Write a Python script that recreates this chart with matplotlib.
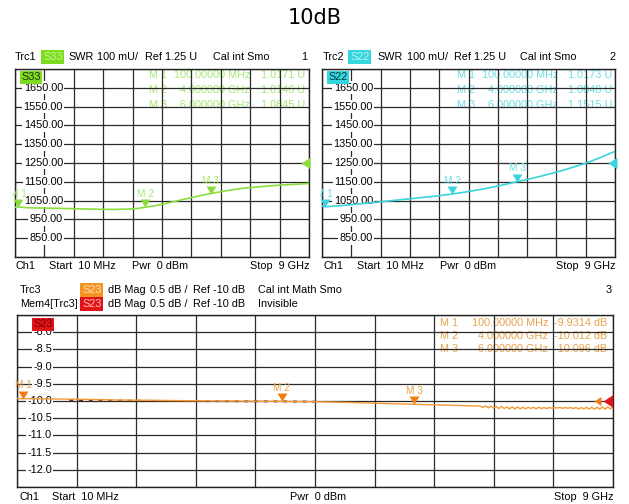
import numpy as np
import matplotlib.pyplot as plt
from matplotlib.transforms import Bbox, TransformedBbox, blended_transform_factory

W, H = 629, 504
FONT = 'Liberation Sans'
plt.rcParams['font.family'] = FONT

# traces, frequency in GHz
f_s33 = [0.01, 0.1, 0.3, 0.6, 1.0, 1.5, 2.0, 2.5, 3.0, 3.5, 3.8, 4.0, 4.3, 4.6,
         5.0, 5.3, 5.6, 6.0, 6.3, 6.6, 7.0, 7.5, 8.0, 8.5, 9.0]
s33 = [1014, 1017, 1013, 1011, 1010, 1008, 1006, 1004, 1003, 1005, 1009, 1015, 1023, 1034,
       1050, 1062, 1074, 1088, 1097, 1106, 1116, 1124, 1131, 1136, 1141]

f_s22 = [0.01, 0.1, 0.5, 1.0, 1.5, 2.0, 2.5, 3.0, 3.5, 4.0, 4.5, 5.0, 5.5, 6.0,
         6.5, 7.0, 7.5, 8.0, 8.5, 9.0]
s22 = [1022, 1017, 1022, 1030, 1038, 1047, 1056, 1065, 1074, 1085, 1098, 1113, 1131, 1151,
       1170, 1192, 1216, 1243, 1275, 1312]

f_s23 = [0.01, 0.1, 0.5, 1.0, 1.5, 2.0, 2.5, 3.0, 3.5, 4.0, 4.5, 5.0, 5.5, 6.0, 6.5,
         7.00, 7.04, 7.08, 7.12, 7.16, 7.20, 7.24, 7.28, 7.32, 7.36, 7.40, 7.44, 7.48,
         7.52, 7.56, 7.60, 7.64, 7.68, 7.72, 7.76, 7.80, 7.84, 7.88, 7.92, 7.96, 8.00,
         8.04, 8.08, 8.12, 8.16, 8.20, 8.24, 8.28, 8.32, 8.36, 8.40, 8.44, 8.48, 8.52,
         8.56, 8.60, 8.64, 8.68, 8.72, 8.76, 8.80, 8.84, 8.88, 8.92, 8.96, 9.00]
s23 = [-9.93, -9.931, -9.94, -9.95, -9.97, -9.98, -9.99, -10.0, -10.005, -10.012, -10.02,
       -10.04, -10.07, -10.096, -10.12,
       -10.15, -10.19, -10.14, -10.20, -10.15, -10.21, -10.16, -10.22, -10.16, -10.22,
       -10.17, -10.23, -10.17, -10.23, -10.17, -10.23, -10.18, -10.23, -10.18, -10.22,
       -10.18, -10.23, -10.18, -10.22, -10.19, -10.22, -10.19, -10.21, -10.20, -10.20,
       -10.19, -10.21, -10.19, -10.21, -10.19, -10.22, -10.19, -10.23, -10.19, -10.23,
       -10.18, -10.24, -10.18, -10.24, -10.18, -10.24, -10.17, -10.24, -10.17, -10.23,
       -10.16]

f_mem = [0.8, 1.2, 1.6, 2.0, 2.5, 3.0, 3.5, 4.0, 4.5]
mem = [-9.975, -9.985, -9.99, -9.995, -10.0, -10.005, -10.01, -10.012, -10.02]

marker_f = [0.1, 4.0, 6.0]
marker_f_txt = ['100.00000 MHz', '4.000000 GHz', '6.000000 GHz']
m_s33 = [1017.1, 1014.6, 1084.5]
m_s22 = [1017.3, 1084.8, 1151.5]
m_s23 = [-9.9314, -10.012, -10.096]

swr_ticks = [1650, 1550, 1450, 1350, 1250, 1150, 1050, 950, 850]
db_ticks = [-8.0, -8.5, -9.0, -9.5, -10.0, -10.5, -11.0, -11.5, -12.0]

GREEN, GREEN_T = '#8ade3c', '#a6e874'
CYAN, CYAN_T = '#3ad4dc', '#6adfe5'
ORANGE, ORANGE_T = '#f39a36', '#e8a24a'
MARK_OR = '#f07e10'
RED = '#e01418'

TRI_DOWN = [(-0.62, 1), (0.62, 1), (0, 0)]
TRI_LEFT = [(0, 0), (1, 0.65), (1, -0.65)]

fig = plt.figure(figsize=(W / 100, H / 100), dpi=100)


def ftext(x, y, s, ha='left', color='black', size=7.8, **kw):
    return fig.text(x / W, 1 - y / H, s, ha=ha, va='center', fontsize=size,
                    color=color, **kw)


def panel(x0, y0, x1, y1, ylim):
    ax = fig.add_axes([x0 / W, 1 - y1 / H, (x1 - x0) / W, (y1 - y0) / H])
    ax.set_xlim(0.01, 9)
    ax.set_ylim(*ylim)
    ax.set_xticks(np.linspace(0.01, 9, 11))
    ax.set_yticks(np.linspace(ylim[0], ylim[1], 11))
    ax.tick_params(length=0, labelleft=False, labelbottom=False)
    ax.grid(True, color='#2a2a2a', lw=0.9)
    ax.set_axisbelow(True)
    for s in ax.spines.values():
        s.set_color('#222222')
        s.set_linewidth(1.0)
    return ax


def markers(ax, vals, color, tcolor, clip_x):
    ax.plot(marker_f, vals, linestyle='none', marker=TRI_DOWN, ms=11.5, color=color,
            mec='none', clip_on=False, zorder=4)
    for i, (f, v) in enumerate(zip(marker_f, vals)):
        t = ax.annotate(f'M {i + 1}', (f, v), xytext=(0, 9.5), textcoords='offset points',
                        ha='center', va='center', fontsize=7.2, color=tcolor,
                        annotation_clip=False)
        t.set_clip_on(True)
        t.set_clip_box(TransformedBbox(Bbox.from_extents(clip_x / W, 0, 1, 1),
                                       fig.transFigure))


def ylabels(ax, ticks, xfrac, fmt):
    tr = blended_transform_factory(ax.transAxes, ax.transData)
    for v in ticks:
        ax.text(xfrac, v, fmt.format(v), transform=tr, ha='right', va='center',
                fontsize=7.8, bbox=dict(fc='white', ec='none', pad=1.0), zorder=1)
    return tr


def table(ax, vals, xm, xf, xv, ys, c, fmt, div):
    # drawn under the grid, as on the analyzer screen
    for i, (v, y) in enumerate(zip(vals, ys)):
        for x, s, ha in [(xm, f'M {i + 1}', 'left'), (xf, marker_f_txt[i], 'right'),
                         (xv, fmt.format(v / div), 'right')]:
            ax.text(x / W, 1 - y / H, s, transform=fig.transFigure, ha=ha, va='center',
                    fontsize=7.8, color=c, zorder=0.4)


# title
fig.text(0.5, 1 - 18 / H, '10dB', ha='center', va='center', fontsize=15,
         family='DejaVu Sans')

# ---- top left: S33 SWR
ax1 = panel(15, 69, 309, 257, (750, 1750))
tr1 = ylabels(ax1, swr_ticks, (63 - 15) / 294, '{:.2f}')
ax1.plot(f_s33, s33, color=GREEN, lw=1.2, zorder=3)
markers(ax1, m_s33, GREEN, GREEN_T, 13)
ax1.plot([0.972], [1250], marker=TRI_LEFT, ms=13, color=GREEN, mec='none',
         transform=tr1, clip_on=False, zorder=5)
ax1.text(6 / 294, 1705, 'S33', transform=tr1, ha='left', va='center', fontsize=7.8,
         color='#1d3300', bbox=dict(fc='#7ddc1e', ec='none', pad=1.0), zorder=6)
table(ax1, m_s33, 149, 250, 305, [75, 90, 105], GREEN_T, '{:.5g} U', 1000)

# ---- top right: S22 SWR
ax2 = panel(322, 69, 615, 257, (750, 1750))
tr2 = ylabels(ax2, swr_ticks, (373 - 322) / 293, '{:.2f}')
ax2.plot(f_s22, s22, color=CYAN, lw=1.2, zorder=3)
markers(ax2, m_s22, CYAN, CYAN_T, 320)
ax2.plot([0.976], [1250], marker=TRI_LEFT, ms=13, color=CYAN, mec='none',
         transform=tr2, clip_on=False, zorder=5)
ax2.text(6 / 293, 1705, 'S22', transform=tr2, ha='left', va='center', fontsize=7.8,
         color='#003a40', bbox=dict(fc='#36d6de', ec='none', pad=1.0), zorder=6)
table(ax2, m_s22, 457, 558, 612, [75, 90, 105], CYAN_T, '{:.5g} U', 1000)

# ---- bottom: S23 dB Mag
ax3 = panel(17, 315, 613, 487, (-12.5, -7.5))
tr3 = ylabels(ax3, db_ticks, (52 - 17) / 596, '{:.1f}')
ax3.plot(f_mem, mem, color='#6a2a10', lw=1.4, dashes=(2, 3), zorder=2.8)
ax3.plot(f_s23, s23, color=ORANGE, lw=1.0, zorder=3)
markers(ax3, m_s23, MARK_OR, ORANGE_T, 12)
ax3.plot([0.968], [-10.0], marker=TRI_LEFT, ms=10, color=MARK_OR, mec='none',
         transform=tr3, clip_on=False, zorder=5)
ax3.plot([0.983], [-10.0], marker=TRI_LEFT, ms=14, color=RED, mec='none',
         transform=tr3, clip_on=False, zorder=6)
ax3.text(16 / 596, -7.77, 'S23', transform=tr3, ha='left', va='center', fontsize=7.8,
         color='#7a0000', bbox=dict(fc=RED, ec='none', pad=1.0), zorder=6)
table(ax3, m_s23, 440, 548, 607, [323, 336, 349], ORANGE_T, '{:.5g} dB', 1)

# ---- headers
ftext(15, 57, 'Trc1')
ftext(43, 57, 'S33', color='#c6f39c', bbox=dict(fc='#7ddc1e', ec='none', pad=1.2))
ftext(68, 57, 'SWR')
ftext(97, 57, '100 mU/')
ftext(145, 57, 'Ref 1.25 U')
ftext(213, 57, 'Cal int Smo')
ftext(307, 57, '1', ha='right')

ftext(323, 57, 'Trc2')
ftext(350, 57, 'S22', color='#b8f3f6', bbox=dict(fc='#36d6de', ec='none', pad=1.2))
ftext(377, 57, 'SWR')
ftext(407, 57, '100 mU/')
ftext(454, 57, 'Ref 1.25 U')
ftext(520, 57, 'Cal int Smo')
ftext(615, 57, '2', ha='right')

ftext(20, 290, 'Trc3')
ftext(82, 290, 'S23', color='#fde0b8', bbox=dict(fc='#f39424', ec='none', pad=1.2))
ftext(108, 290, 'dB Mag')
ftext(150, 290, '0.5 dB /')
ftext(193, 290, 'Ref -10 dB')
ftext(258, 290, 'Cal int Math Smo')
ftext(612, 290, '3', ha='right')

ftext(20, 304, 'Mem4[Trc3]')
ftext(82, 304, 'S23', color='#ffb8b8', bbox=dict(fc=RED, ec='none', pad=1.2))
ftext(108, 304, 'dB Mag')
ftext(150, 304, '0.5 dB /')
ftext(193, 304, 'Ref -10 dB')
ftext(258, 304, 'Invisible')

# ---- footers
for x0, x1, y in [(15, 309, 266), (323, 616, 266)]:
    ftext(x0, y, 'Ch1')
    ftext(x0 + 34, y, 'Start  10 MHz')
    ftext(x0 + 117, y, 'Pwr  0 dBm')
    ftext(x1, y, 'Stop  9 GHz', ha='right')
ftext(19, 497, 'Ch1')
ftext(52, 497, 'Start  10 MHz')
ftext(290, 497, 'Pwr  0 dBm')
ftext(614, 497, 'Stop  9 GHz', ha='right')

fig.savefig('out.png', dpi=100)
